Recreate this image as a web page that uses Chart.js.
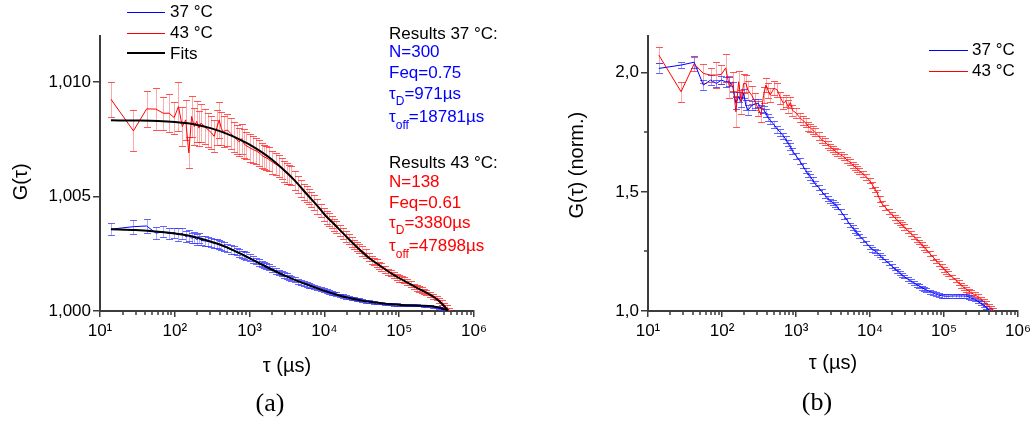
<!DOCTYPE html>
<html><head><meta charset="utf-8">
<script src="https://cdn.jsdelivr.net/npm/chart.js@4.4.1/dist/chart.umd.min.js"></script>
<style>
html,body{margin:0;padding:0;background:#fff;}
#wrap{position:relative;width:1035px;height:426px;overflow:hidden;font-family:"Liberation Sans",Arial,sans-serif;}
canvas{position:absolute;top:0;}
.t{position:absolute;font-size:17px;line-height:20px;white-space:nowrap;color:#000;}
.sub{font-size:12px;position:relative;}
.lg{position:absolute;height:0;}
.cap{position:absolute;width:100px;text-align:center;font-family:"Liberation Serif","Times New Roman",serif;font-size:26px;line-height:30px;color:#000;}
.bl{color:#0000ff;} .rd{color:#ff0000;}
</style></head>
<body>
<div id="wrap">
<canvas id="ca" width="515" height="426" style="left:0"></canvas>
<canvas id="cb" width="520" height="426" style="left:515px"></canvas>

<div class="lg" style="left:127px;top:12px;width:38px;border-top:1px solid #0000ff"></div>
<div class="t" style="left:170px;top:1.6px">37 °C</div>
<div class="lg" style="left:127px;top:33px;width:38px;border-top:1px solid #ff0000"></div>
<div class="t" style="left:170px;top:22.6px">43 °C</div>
<div class="lg" style="left:127px;top:52px;width:38px;border-top:2px solid #000"></div>
<div class="t" style="left:170px;top:44.1px">Fits</div>

<div class="t" style="left:389px;top:23.6px">Results 37 °C:</div>
<div class="t bl" style="left:389px;top:42.1px">N=300</div>
<div class="t bl" style="left:389px;top:62.6px">Feq=0.75</div>
<div class="t bl" style="left:389px;top:84.1px">τ<span class="sub" style="top:6px">D</span>=971µs</div>
<div class="t bl" style="left:389px;top:106.6px">τ<span class="sub" style="top:7px">off</span>=18781µs</div>

<div class="t" style="left:389px;top:153.4px">Results 43 °C:</div>
<div class="t rd" style="left:389px;top:172.4px">N=138</div>
<div class="t rd" style="left:389px;top:192.6px">Feq=0.61</div>
<div class="t rd" style="left:389px;top:213.1px">τ<span class="sub" style="top:6px">D</span>=3380µs</div>
<div class="t rd" style="left:389px;top:235.8px">τ<span class="sub" style="top:7px">off</span>=47898µs</div>

<div class="lg" style="left:929px;top:50px;width:39px;border-top:1px solid #0000ff"></div>
<div class="t" style="left:972px;top:39.8px">37 °C</div>
<div class="lg" style="left:929px;top:71px;width:39px;border-top:1px solid #ff0000"></div>
<div class="t" style="left:972px;top:60.8px">43 °C</div>

<div class="cap" style="left:220px;top:388px">(a)</div>
<div class="cap" style="left:767px;top:387px">(b)</div>
</div>
<script>
// ---- data (lag times in µs) ----
const tau = [14,28,42,56,70,84,98,112,126,140,154,168,182,196,210,224,
 252,280,308,336,364,392,420,448,
 504,560,616,672,728,784,840,896,
 1008,1120,1232,1344,1456,1568,1680,1792,
 2016,2240,2464,2688,2912,3136,3360,3584,
 4032,4480,4928,5376,5824,6272,6720,7168,
 8064,8960,9856,10752,11648,12544,13440,14336,
 16128,17920,19712,21504,23296,25088,26880,28672,
 32256,35840,39424,43008,46592,50176,53760,57344,
 64512,71680,78848,86016,93184,100352,107520,114688,
 129024,143360,157696,172032,186368,200704,215040,229376,
 258048,286720,315392,344064,372736,401408,430080,458752];

// panel (a) 43 °C
const redA = [1.00924,1.00786,1.00882,1.00881,1.00863,1.00863,1.00844,1.00892,1.00805,1.00834,1.00690,1.00849,1.00805,1.00827,1.00798,1.00820,
 1.00805,1.00790,1.00778,1.00762,1.00800,1.00834,1.00795,1.00783,
 1.00790,1.00775,1.00760,1.00748,1.00738,1.00752,1.00730,1.00722,
 1.00712,1.00704,1.00698,1.00690,1.00680,1.00672,1.00668,1.00662,
 1.00650,1.00640,1.00632,1.00622,1.00610,1.00600,1.00596,1.00590,
 1.00570,1.00552,1.00536,1.00520,1.00510,1.00500,1.00486,1.00474,
 1.00456,1.00438,1.00422,1.00408,1.00398,1.00388,1.00376,1.00366,
 1.00352,1.00336,1.00326,1.00314,1.00300,1.00290,1.00282,1.00272,
 1.00262,1.00250,1.00235,1.00222,1.00216,1.00208,1.00199,1.00192,
 1.00180,1.00170,1.00165,1.00158,1.00149,1.00142,1.00138,1.00134,
 1.00125,1.00118,1.00108,1.00100,1.00096,1.00092,1.00086,1.00082,
 1.00072,1.00064,1.00056,1.00046,1.00036,1.00026,1.00014,1.00004];
const redAErr = [0.00076,0.00090,0.00079,0.00092,0.00072,0.00082,0.00070,0.00106,0.00085,0.00088,0.00068,0.00090,0.00080,0.00088,0.00076,0.00082,
 0.00078,0.00074,0.00072,0.00070,0.00076,0.00080,0.00072,0.00068,
 0.00068,0.00066,0.00066,0.00064,0.00062,0.00066,0.00062,0.00060,
 0.00060,0.00058,0.00058,0.00056,0.00055,0.00054,0.00053,0.00052,
 0.00050,0.00048,0.00047,0.00046,0.00045,0.00044,0.00043,0.00042,
 0.00040,0.00038,0.00037,0.00036,0.00035,0.00034,0.00033,0.00032,
 0.00031,0.00030,0.00029,0.00028,0.00028,0.00027,0.00026,0.00026,
 0.00025,0.00024,0.00023,0.00022,0.00022,0.00021,0.00021,0.00020,
 0.00020,0.00019,0.00018,0.00018,0.00017,0.00017,0.00016,0.00016,
 0.00015,0.00015,0.00014,0.00014,0.00014,0.00014,0.00013,0.00013,
 0.00013,0.00013,0.00012,0.00012,0.00012,0.00012,0.00011,0.00011,
 0.00011,0.00011,0.00010,0.00010,0.00010,0.00010,0.00010,0.00010];
// panel (a) 37 °C
const blueA = [1.00357,1.00368,1.00371,1.00340,1.00345,1.00338,1.00342,1.00333,1.00338,1.00325,1.00330,1.00318,1.00322,1.00312,1.00318,1.00308,
 1.00306,1.00304,1.00300,1.00296,1.00294,1.00290,1.00286,1.00282,
 1.00276,1.00268,1.00266,1.00260,1.00252,1.00248,1.00245,1.00240,
 1.00232,1.00224,1.00218,1.00212,1.00206,1.00201,1.00196,1.00192,
 1.00183,1.00176,1.00169,1.00163,1.00157,1.00152,1.00148,1.00143,
 1.00136,1.00130,1.00125,1.00120,1.00116,1.00112,1.00108,1.00105,
 1.00100,1.00095,1.00091,1.00087,1.00083,1.00080,1.00077,1.00074,
 1.00069,1.00065,1.00061,1.00058,1.00055,1.00053,1.00051,1.00049,
 1.00046,1.00043,1.00041,1.00039,1.00037,1.00036,1.00035,1.00034,
 1.00032,1.00031,1.00030,1.00029,1.00028,1.00027,1.00027,1.00026,
 1.00026,1.00025,1.00025,1.00025,1.00024,1.00024,1.00023,1.00022,
 1.00020,1.00018,1.00016,1.00012,1.00008,1.00004,null,null];
const blueAErr = [0.00026,0.00030,0.00030,0.00026,0.00024,0.00026,0.00022,0.00028,0.00024,0.00026,0.00024,0.00022,0.00024,0.00022,0.00022,0.00020,
 0.00021,0.00020,0.00020,0.00019,0.00019,0.00019,0.00018,0.00018,
 0.00018,0.00018,0.00017,0.00017,0.00017,0.00016,0.00016,0.00016,
 0.00016,0.00015,0.00015,0.00015,0.00014,0.00014,0.00014,0.00013,
 0.00013,0.00013,0.00012,0.00012,0.00012,0.00012,0.00011,0.00011,
 0.00011,0.00011,0.00010,0.00010,0.00010,0.00010,0.00009,0.00009,
 0.00009,0.00009,0.00009,0.00008,0.00008,0.00008,0.00008,0.00008,
 0.00007,0.00007,0.00007,0.00007,0.00007,0.00006,0.00006,0.00006,
 0.00006,0.00006,0.00006,0.00005,0.00005,0.00005,0.00005,0.00005,
 0.00005,0.00005,0.00005,0.00005,0.00005,0.00005,0.00005,0.00005,
 0.00005,0.00005,0.00005,0.00005,0.00004,0.00004,0.00004,0.00004,
 0.00004,0.00004,0.00004,0.00004,0.00004,0.00004,null,null];

// fits, panel (a)
const fitTau = [14,30,60,100,150,200,300,400,600,800,1000,1500,2000,3000,4000,6000,8000,10000,15000,20000,30000,40000,60000,80000,100000,150000,200000,250000,300000,350000,400000,450000];
const fitRedA = [1.00832,1.00831,1.00829,1.00825,1.00819,1.00812,1.00798,1.00785,1.00762,1.00742,1.00726,1.00690,1.00660,1.00610,1.00570,1.00505,1.00460,1.00422,1.00364,1.00322,1.00266,1.00230,1.00190,1.00162,1.00144,1.00112,1.00090,1.00074,1.00058,1.00040,1.00020,1.00002];
const fitBlueA = [1.00357,1.00353,1.00346,1.00338,1.00329,1.00320,1.00303,1.00290,1.00266,1.00246,1.00230,1.00200,1.00180,1.00153,1.00136,1.00114,1.00099,1.00088,1.00070,1.00059,1.00047,1.00040,1.00033,1.00029,1.00027,1.00024,1.00023,1.00022,1.00019,1.00014,1.00008,1.00002];

// panel (b) normalised, 43 °C
const redB = [2.074,1.920,2.037,1.997,1.990,1.990,1.993,2.020,1.940,1.962,1.836,1.962,1.878,1.955,1.955,1.927,
 1.905,1.878,1.850,1.822,1.905,1.948,1.925,1.906,
 1.935,1.927,1.895,1.872,1.880,1.857,1.875,1.842,
 1.830,1.812,1.800,1.790,1.775,1.768,1.760,1.750,
 1.735,1.718,1.710,1.698,1.688,1.680,1.672,1.665,
 1.655,1.645,1.632,1.625,1.612,1.605,1.596,1.588,
 1.575,1.562,1.548,1.530,1.510,1.495,1.470,1.452,
 1.435,1.418,1.405,1.392,1.382,1.372,1.362,1.353,
 1.338,1.325,1.312,1.300,1.290,1.278,1.268,1.258,
 1.240,1.225,1.210,1.198,1.186,1.175,1.166,1.158,
 1.143,1.130,1.118,1.108,1.098,1.090,1.084,1.078,
 1.068,1.060,1.050,1.040,1.030,1.020,1.011,1.002];
const redBErr = [0.032,0.042,0.030,0.040,0.030,0.056,0.040,0.060,0.045,0.040,0.065,0.045,0.050,0.040,0.035,0.040,
 0.038,0.035,0.032,0.030,0.034,0.030,0.030,0.028,
 0.030,0.030,0.026,0.025,0.026,0.028,0.024,0.022,
 0.021,0.020,0.019,0.018,0.018,0.017,0.017,0.016,
 0.016,0.015,0.015,0.015,0.014,0.014,0.014,0.014,
 0.013,0.013,0.013,0.013,0.013,0.012,0.012,0.012,
 0.012,0.012,0.012,0.012,0.012,0.012,0.011,0.011,
 0.011,0.011,0.011,0.011,0.011,0.011,0.011,0.011,
 0.011,0.011,0.011,0.011,0.010,0.010,0.010,0.010,
 0.010,0.010,0.010,0.010,0.010,0.010,0.010,0.010,
 0.010,0.010,0.010,0.010,0.010,0.010,0.010,0.010,
 0.010,0.010,0.010,0.010,0.010,0.010,0.010,0.010];
// panel (b) normalised, 37 °C
const blueB = [2.018,2.032,2.044,1.948,1.969,1.955,1.969,1.962,1.962,1.941,1.872,1.899,1.878,1.913,1.864,1.843,
 1.862,1.870,1.872,1.850,1.845,1.830,1.812,1.800,
 1.782,1.762,1.750,1.735,1.720,1.704,1.690,1.672,
 1.650,1.630,1.610,1.590,1.575,1.562,1.550,1.535,
 1.518,1.500,1.485,1.472,1.462,1.455,1.448,1.438,
 1.418,1.398,1.380,1.362,1.350,1.338,1.326,1.315,
 1.300,1.285,1.270,1.258,1.252,1.245,1.235,1.225,
 1.212,1.200,1.188,1.178,1.168,1.160,1.152,1.145,
 1.134,1.125,1.117,1.110,1.104,1.098,1.093,1.088,
 1.081,1.075,1.070,1.066,1.064,1.063,1.062,1.062,
 1.063,1.063,1.063,1.063,1.063,1.062,1.059,1.055,
 1.048,1.040,1.032,1.025,1.015,1.004,null,null];
const blueBErr = [0.021,0.012,0.024,0.022,0.020,0.016,0.018,0.020,0.018,0.022,0.025,0.020,0.020,0.018,0.020,0.020,
 0.018,0.018,0.017,0.016,0.016,0.016,0.015,0.015,
 0.014,0.014,0.014,0.014,0.013,0.013,0.013,0.013,
 0.012,0.012,0.012,0.012,0.011,0.011,0.011,0.011,
 0.011,0.010,0.010,0.010,0.010,0.010,0.010,0.010,
 0.010,0.010,0.009,0.009,0.009,0.009,0.009,0.009,
 0.009,0.009,0.009,0.009,0.009,0.009,0.008,0.008,
 0.008,0.008,0.008,0.008,0.008,0.008,0.008,0.008,
 0.008,0.008,0.008,0.008,0.008,0.008,0.008,0.008,
 0.008,0.008,0.008,0.008,0.008,0.008,0.008,0.008,
 0.008,0.008,0.008,0.008,0.008,0.008,0.008,0.008,
 0.008,0.008,0.008,0.008,0.008,0.008,null,null];

const xTickValues = [10,100,1000,10000,100000,1000000];
const xTickLabels = ['10¹','10²','10³','10⁴','10⁵','10⁶'];
const yTicksA = [1.000,1.005,1.010];
const yTickLabelsA = ['1,000','1,005','1,010'];
const yTicksB = [1.0,1.5,2.0];
const yTickLabelsB = ['1,0','1,5','2,0'];
const yMinorB = [1.25,1.75];

// ---- rendering ----
const FONT = "'Liberation Sans', Arial, sans-serif";
const AXIS = '#3c3c3c';
const pts = (xs, ys) => xs.map((t, i) => ({x: t, y: ys[i]}));

const errPlugin = {
  id: 'errbars',
  beforeDatasetsDraw(chart) {
    const {ctx, chartArea: ca} = chart;
    const xs = chart.scales.x, ys = chart.scales.y;
    ctx.save();
    ctx.beginPath(); ctx.rect(ca.left, ca.top - 20, ca.right - ca.left, ca.bottom - ca.top + 20); ctx.clip();
    chart.data.datasets.forEach((ds) => {
      if (!ds.errors) return;
      ctx.lineWidth = 1;
      ds.data.forEach((p, j) => {
        const e = ds.errors[j];
        if (p.y == null || e == null) return;
        const px = Math.round(xs.getPixelForValue(p.x)) + 0.5;
        const y1 = Math.round(ys.getPixelForValue(p.y - e)) + 0.5;
        const y2 = Math.round(ys.getPixelForValue(p.y + e)) + 0.5;
        ctx.strokeStyle = ds.errBarColor;
        ctx.beginPath(); ctx.moveTo(px, y1); ctx.lineTo(px, y2); ctx.stroke();
        ctx.strokeStyle = ds.errCapColor;
        ctx.beginPath();
        ctx.moveTo(px - 3.5, y1); ctx.lineTo(px + 3.5, y1);
        ctx.moveTo(px - 3.5, y2); ctx.lineTo(px + 3.5, y2);
        ctx.stroke();
      });
    });
    ctx.restore();
  }
};

const minorPlugin = {
  id: 'minorTicks',
  afterDraw(chart, args, opts) {
    const {ctx, chartArea: ca} = chart;
    const xs = chart.scales.x, ys = chart.scales.y;
    ctx.save(); ctx.strokeStyle = AXIS; ctx.lineWidth = 1.5;
    ctx.beginPath();
    for (let e = 1; e < 6; e++) for (let k = 2; k < 10; k++) {
      const px = Math.round(xs.getPixelForValue(k * Math.pow(10, e)));
      ctx.moveTo(px, ca.bottom); ctx.lineTo(px, ca.bottom + 4);
    }
    (opts.yMinor || []).forEach(v => {
      const py = Math.round(ys.getPixelForValue(v));
      ctx.moveTo(ca.left, py); ctx.lineTo(ca.left - 4, py);
    });
    ctx.stroke(); ctx.restore();
  }
};

function lineDs(label, data, color, width, extra) {
  return Object.assign({label, data, borderColor: color, borderWidth: width, pointRadius: 0,
    fill: false, tension: 0, spanGaps: false}, extra || {});
}

function makeOptions(o) {
  return {
    responsive: false, animation: false,
    layout: {padding: o.padding},
    plugins: {legend: {display: false}, tooltip: {enabled: false}, minorTicks: {yMinor: o.yMinor}},
    scales: {
      x: {
        type: 'logarithmic', min: 10, max: 1e6,
        afterBuildTicks: s => { s.ticks = xTickValues.map(v => ({value: v})); },
        afterFit: s => { s.height = 69; },
        ticks: {callback: (v, i) => xTickLabels[i], font: {size: 17, family: FONT}, color: '#000', padding: 4, maxRotation: 0, autoSkip: false},
        grid: {drawOnChartArea: false, drawTicks: true, tickLength: 6, color: AXIS, lineWidth: 1.5},
        border: {display: true, color: AXIS, width: 2},
        title: {display: true, text: 'τ (µs)', font: {size: 20, family: FONT}, color: '#000', padding: {top: 0, bottom: o.xTitlePad}}
      },
      y: {
        min: o.ymin, max: o.ymax,
        afterBuildTicks: s => { s.ticks = o.yTicks.map(v => ({value: v})); },
        afterFit: s => { s.width = o.yWidth; },
        ticks: {callback: (v, i) => o.yLabels[i], font: {size: 17, family: FONT}, color: '#000', padding: 2, autoSkip: false},
        grid: {drawOnChartArea: false, drawTicks: true, tickLength: 7, color: AXIS, lineWidth: 1.5},
        border: {display: true, color: AXIS, width: 2},
        title: {display: true, text: o.yTitle, font: {size: 20, family: FONT}, color: '#000', padding: {top: o.yTitlePad, bottom: 0}}
      }
    }
  };
}

const RED_BAR = 'rgba(255,85,85,0.5)', RED_CAP = 'rgba(255,30,30,0.75)';
const BLUE_BAR = 'rgba(90,90,255,0.5)', BLUE_CAP = 'rgba(50,50,255,0.75)';

new Chart(document.getElementById('ca'), {
  type: 'line',
  data: {datasets: [
    lineDs('Fits', pts(fitTau, fitRedA), '#000000', 2, {cubicInterpolationMode: 'monotone'}),
    lineDs('Fits 37', pts(fitTau, fitBlueA), '#000000', 2, {cubicInterpolationMode: 'monotone'}),
    lineDs('43 °C', pts(tau, redA), '#ff0000', 1, {errors: redAErr, errBarColor: RED_BAR, errCapColor: RED_CAP}),
    lineDs('37 °C', pts(tau, blueA), '#0000ff', 1, {errors: blueAErr, errBarColor: BLUE_BAR, errCapColor: BLUE_CAP})
  ]},
  options: makeOptions({padding: {top: 36, left: 0, right: 41, bottom: 46}, ymin: 1.0, ymax: 1.012,
    yTicks: yTicksA, yLabels: yTickLabelsA, yWidth: 100, yTitle: 'G(τ)   ', yTitlePad: 9, xTitlePad: 2, yMinor: []}),
  plugins: [errPlugin, minorPlugin]
});

new Chart(document.getElementById('cb'), {
  type: 'line',
  data: {datasets: [
    lineDs('43 °C', pts(tau, redB), '#ff0000', 1, {errors: redBErr, errBarColor: RED_BAR, errCapColor: RED_CAP}),
    lineDs('37 °C', pts(tau, blueB), '#0000ff', 1, {errors: blueBErr, errBarColor: BLUE_BAR, errCapColor: BLUE_CAP})
  ]},
  options: makeOptions({padding: {top: 36, left: 0, right: 14, bottom: 46}, ymin: 1.0, ymax: 2.154,
    yTicks: yTicksB, yLabels: yTickLabelsB, yWidth: 133, yTitle: '   G(τ) (norm.)', yTitlePad: 50, xTitlePad: 5, yMinor: yMinorB}),
  plugins: [errPlugin, minorPlugin]
});
</script>
</body></html>
